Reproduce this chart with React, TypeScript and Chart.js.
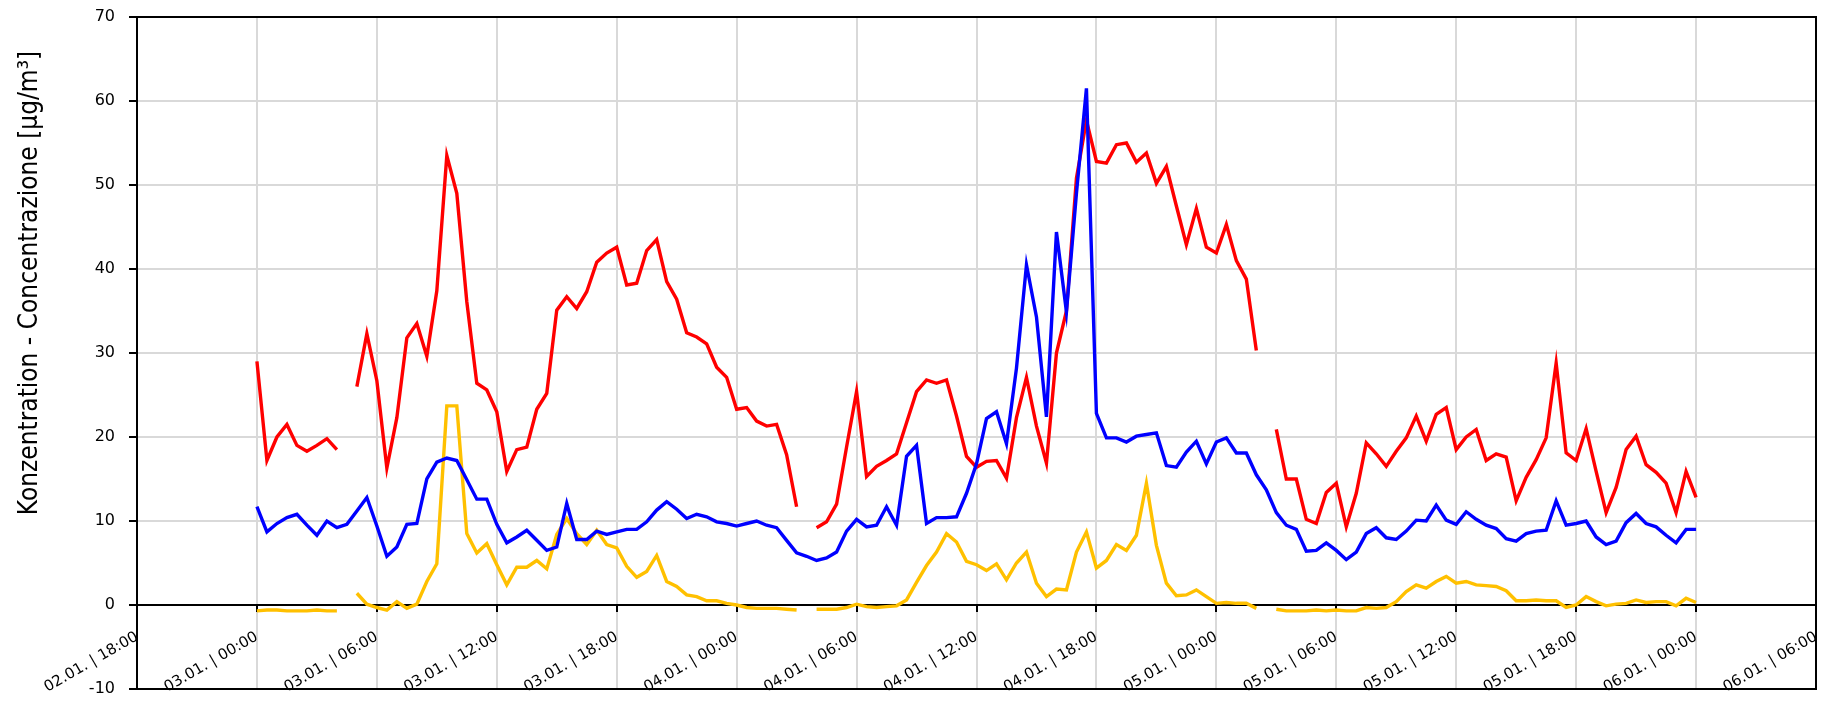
import React, { useEffect, useRef } from 'react';
import { Chart, registerables } from 'chart.js';

Chart.register(...registerables);

// X axis: hours counted from 02.01. 18:00, one tick every 6 hours
const xTickLabels = [
  '02.01. | 18:00', '03.01. | 00:00', '03.01. | 06:00', '03.01. | 12:00', '03.01. | 18:00',
  '04.01. | 00:00', '04.01. | 06:00', '04.01. | 12:00', '04.01. | 18:00',
  '05.01. | 00:00', '05.01. | 06:00', '05.01. | 12:00', '05.01. | 18:00',
  '06.01. | 00:00', '06.01. | 06:00',
];
const X_TICK_STEP_HOURS = 6;
const SERIES_START_HOURS = 6; // first value: 03.01. 00:00
const SERIES_STEP_HOURS = 0.5; // half-hourly values

const yTitle = 'Konzentration - Concentrazione [µg/m³]';

// red series (half-hourly, from 03.01. 00:00 to 06.01. 00:00)
const redValues: (number | null)[] = [
  29.0, 17.2, 20.0, 21.5, 19.0, 18.3, 19.0, 19.8, 18.5, null,
  26.0, 32.3, 26.7, 16.3, 22.3, 31.8, 33.5, 29.6, 37.4, 53.5,
  49.0, 36.1, 26.4, 25.6, 23.0, 15.9, 18.5, 18.8, 23.3, 25.2,
  35.1, 36.7, 35.3, 37.3, 40.8, 41.9, 42.6, 38.1, 38.3, 42.2,
  43.5, 38.5, 36.4, 32.4, 31.9, 31.1, 28.3, 27.1, 23.3, 23.5,
  21.9, 21.3, 21.5, 17.9, 11.7, null, 9.2, 9.9, 12.0, 18.8,
  25.4, 15.3, 16.5, 17.2, 18.0, 21.7, 25.4, 26.8, 26.4, 26.8,
  22.5, 17.7, 16.4, 17.1, 17.2, 15.1, 22.3, 27.1, 21.3, 16.9,
  30.0, 35.0, 50.8, 57.7, 52.8, 52.6, 54.8, 55.0, 52.7, 53.8,
  50.2, 52.2, 47.5, 42.9, 47.2, 42.6, 41.9, 45.3, 41.0, 38.8,
  30.3, null, 20.9, 15.0, 15.0, 10.2, 9.7, 13.4, 14.5, 9.3,
  13.3, 19.3, 18.0, 16.5, 18.3, 19.9, 22.5, 19.5, 22.7, 23.5,
  18.5, 20.0, 20.9, 17.2, 18.0, 17.6, 12.4, 15.2, 17.3, 19.9,
  28.8, 18.1, 17.2, 21.0, 15.9, 11.0, 14.0, 18.5, 20.1, 16.7,
  15.8, 14.5, 11.0, 15.9, 12.8,
];

// blue series
const blueValues: (number | null)[] = [
  11.7, 8.7, 9.7, 10.4, 10.8, 9.5, 8.3, 10.0, 9.2, 9.6,
  11.2, 12.8, 9.4, 5.8, 6.9, 9.6, 9.7, 15.0, 17.0, 17.5,
  17.2, 14.9, 12.6, 12.6, 9.6, 7.4, 8.1, 8.9, 7.7, 6.5,
  6.9, 12.1, 7.8, 7.8, 8.8, 8.4, 8.7, 9.0, 9.0, 9.9,
  11.3, 12.3, 11.4, 10.3, 10.8, 10.5, 9.9, 9.7, 9.4, 9.7,
  10.0, 9.5, 9.2, 7.7, 6.2, 5.8, 5.3, 5.6, 6.3, 8.8,
  10.2, 9.3, 9.5, 11.7, 9.5, 17.7, 19.0, 9.7, 10.4, 10.4,
  10.5, 13.3, 16.8, 22.2, 23.0, 19.2, 28.2, 40.5, 34.3, 22.4,
  44.4, 34.9, 49.0, 61.5, 22.8, 19.9, 19.9, 19.4, 20.1, 20.3,
  20.5, 16.6, 16.4, 18.2, 19.5, 16.8, 19.4, 19.9, 18.1, 18.1,
  15.5, 13.7, 11.0, 9.5, 9.0, 6.4, 6.5, 7.4, 6.5, 5.4,
  6.3, 8.5, 9.2, 8.0, 7.8, 8.8, 10.1, 10.0, 11.9, 10.1,
  9.6, 11.1, 10.2, 9.5, 9.1, 7.9, 7.6, 8.5, 8.8, 8.9,
  12.4, 9.5, 9.7, 10.0, 8.1, 7.2, 7.6, 9.8, 10.9, 9.7,
  9.3, 8.3, 7.4, 9.0, 9.0,
];

// yellow series
const yellowValues: (number | null)[] = [
  -0.7, -0.6, -0.6, -0.7, -0.7, -0.7, -0.6, -0.7, -0.7, null,
  1.4, 0.1, -0.3, -0.6, 0.4, -0.4, 0.1, 2.8, 4.9, 23.7,
  23.7, 8.5, 6.2, 7.3, 4.8, 2.4, 4.5, 4.5, 5.3, 4.3,
  8.4, 10.3, 8.5, 7.2, 8.9, 7.2, 6.8, 4.6, 3.3, 4.0,
  5.9, 2.8, 2.2, 1.2, 1.0, 0.5, 0.5, 0.2, 0.0, -0.3,
  -0.4, -0.4, -0.4, -0.5, -0.6, null, -0.5, -0.5, -0.5, -0.3,
  0.1, -0.2, -0.3, -0.2, -0.1, 0.6, 2.7, 4.7, 6.3, 8.5,
  7.5, 5.2, 4.8, 4.1, 4.9, 3.0, 5.0, 6.3, 2.6, 1.0,
  1.9, 1.8, 6.3, 8.7, 4.4, 5.3, 7.2, 6.5, 8.3, 14.5,
  7.1, 2.6, 1.1, 1.2, 1.8, 1.0, 0.2, 0.3, 0.2, 0.2,
  -0.4, null, -0.5, -0.7, -0.7, -0.7, -0.6, -0.7, -0.6, -0.7,
  -0.7, -0.3, -0.4, -0.3, 0.4, 1.6, 2.4, 2.0, 2.8, 3.4,
  2.6, 2.8, 2.4, 2.3, 2.2, 1.7, 0.5, 0.5, 0.6, 0.5,
  0.5, -0.3, 0.0, 1.0, 0.4, -0.1, 0.1, 0.2, 0.6, 0.3,
  0.4, 0.4, -0.1, 0.8, 0.3,
];

const toPoints = (values: (number | null)[]) =>
  values.map((v, i) => ({ x: SERIES_START_HOURS + i * SERIES_STEP_HOURS, y: v }));

const framePlugin = {
  id: 'frame',
  afterDraw(chart: any) {
    const { ctx, chartArea: a } = chart;
    ctx.save();
    ctx.strokeStyle = '#000';
    ctx.lineWidth = 2;
    ctx.strokeRect(a.left, a.top, a.right - a.left, a.bottom - a.top);
    ctx.restore();
  },
};

const yTitlePlugin = {
  id: 'yTitle',
  afterDraw(chart: any) {
    const { ctx } = chart;
    ctx.save();
    ctx.translate(30.5, 283);
    ctx.rotate(-Math.PI / 2);
    ctx.font = "26px 'DejaVu Sans Condensed', 'Liberation Sans Narrow', 'Liberation Sans', sans-serif";
    ctx.fillStyle = '#000';
    ctx.textAlign = 'center';
    ctx.textBaseline = 'middle';
    ctx.fillText(yTitle, 0, 0);
    ctx.restore();
  },
};

export default function App() {
  const canvasRef = useRef<HTMLCanvasElement | null>(null);

  useEffect(() => {
    if (!canvasRef.current) return;
    const yTickFont = { family: "'DejaVu Sans', sans-serif", size: 16 };
    const xTickFont = { family: "'DejaVu Sans', sans-serif", size: 15 };
    const lineDataset = (label: string, values: (number | null)[], color: string) => ({
      label,
      data: toPoints(values) as any,
      borderColor: color,
      backgroundColor: color,
      borderWidth: 3.4,
      pointRadius: 0,
      tension: 0,
      spanGaps: false,
    });
    const chart = new Chart(canvasRef.current, {
      type: 'line',
      data: {
        datasets: [
          lineDataset('blue', blueValues, '#0000FF'),
          lineDataset('yellow', yellowValues, '#FFC000'),
          lineDataset('red', redValues, '#FF0000'),
        ],
      },
      options: {
        animation: false,
        responsive: false,
        devicePixelRatio: 1,
        layout: { padding: { top: 17, right: 9, bottom: 19, left: 0 } },
        plugins: {
          legend: { display: false },
          tooltip: { enabled: false },
          title: { display: false },
        },
        scales: {
          x: {
            type: 'linear',
            position: { y: 0 } as any,
            min: 0,
            max: (xTickLabels.length - 1) * X_TICK_STEP_HOURS,
            afterFit: (scale: any) => {
              scale.paddingLeft = 0;
              scale.paddingRight = 0;
              scale.paddingTop = 0;
              scale.paddingBottom = 0;
            },
            ticks: {
              stepSize: X_TICK_STEP_HOURS,
              autoSkip: false,
              minRotation: 30,
              maxRotation: 30,
              padding: 17,
              color: '#000',
              font: xTickFont,
              callback: (v: any) => xTickLabels[Math.round(Number(v) / X_TICK_STEP_HOURS)],
            },
            grid: {
              color: '#d9d9d9',
              lineWidth: 2,
              tickColor: '#000',
              tickWidth: 2,
              tickLength: 6,
            },
            border: { color: '#000', width: 2 },
          },
          y: {
            type: 'linear',
            position: 'left',
            min: -10,
            max: 70,
            afterFit: (scale: any) => {
              scale.width = 137;
              scale.paddingTop = 0;
              scale.paddingBottom = 0;
            },
            ticks: {
              stepSize: 10,
              padding: 14,
              color: '#000',
              font: yTickFont,
            },
            grid: {
              color: '#d9d9d9',
              lineWidth: 2,
              tickColor: '#000',
              tickWidth: 2,
              tickLength: 8,
            },
            border: { color: '#000', width: 2 },
          },
        },
      },
      plugins: [framePlugin, yTitlePlugin],
    });
    return () => chart.destroy();
  }, []);

  return (
    <div style={{ position: 'absolute', left: 0, top: 0, width: 1825, height: 708, background: '#fff' }}>
      <canvas ref={canvasRef} width={1825} height={708} style={{ display: 'block' }} />
    </div>
  );
}
